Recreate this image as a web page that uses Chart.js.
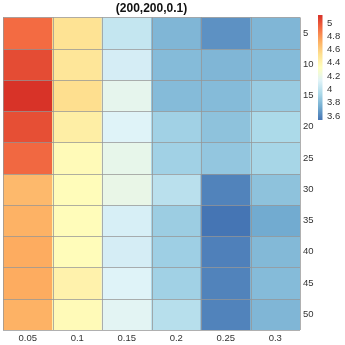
<!DOCTYPE html>
<html>
<head>
<meta charset="utf-8">
<script src="https://cdn.jsdelivr.net/npm/chart.js@4/dist/chart.umd.min.js"></script>
<style>
html,body{margin:0;padding:0;background:#fff;}
#wrap{width:345px;height:345px;}
</style>
</head>
<body>
<div id="wrap"><canvas id="c" width="345" height="345"></canvas></div>
<script>
// ---- data ----
const titleText = "(200,200,0.1)";
const colLabels = ["0.05", "0.1", "0.15", "0.2", "0.25", "0.3"];
const rowLabels = [5, 10, 15, 20, 25, 30, 35, 40, 45, 50];
// values per column, top (5) to bottom (50)
const col005 = [4.93, 5.03, 5.11, 5.02, 4.94, 4.68, 4.71, 4.73, 4.73, 4.71];
const col010 = [4.51, 4.49, 4.53, 4.44, 4.36, 4.35, 4.35, 4.35, 4.41, 4.36];
const col015 = [4.03, 4.09, 4.17, 4.13, 4.18, 4.19, 4.10, 4.09, 4.13, 4.15];
const col020 = [3.78, 3.80, 3.80, 3.90, 3.90, 3.99, 3.88, 3.89, 3.90, 3.98];
const col025 = [3.64, 3.78, 3.80, 3.83, 3.85, 3.59, 3.54, 3.58, 3.59, 3.59];
const col030 = [3.78, 3.80, 3.87, 3.94, 3.92, 3.83, 3.73, 3.79, 3.80, 3.78];
const legendTicks = [5, 4.8, 4.6, 4.4, 4.2, 4, 3.8, 3.6];
const scaleMin = 3.54, scaleMax = 5.12;

const columns = [col005, col010, col015, col020, col025, col030];
const palette = ["#4575b4","#74add1","#abd9e9","#e0f3f8","#ffffbf","#fee090","#fdae61","#f46d43","#d73027"];

function hexToRgb(h){return [parseInt(h.substr(1,2),16),parseInt(h.substr(3,2),16),parseInt(h.substr(5,2),16)];}
const palRgb = palette.map(hexToRgb);
function colorFor(v){
  let t = (v - scaleMin) / (scaleMax - scaleMin);
  t = Math.max(0, Math.min(1, t));
  const p = t * (palRgb.length - 1);
  const i = Math.min(Math.floor(p), palRgb.length - 2);
  const f = p - i;
  const a = palRgb[i], b = palRgb[i+1];
  const c = a.map((x,k)=>Math.round(x + (b[k]-x)*f));
  return "rgb(" + c.join(",") + ")";
}

const datasets = rowLabels.map((r, i) => ({
  label: String(r),
  data: colLabels.map((c, j) => [r - 2.5, r + 2.5]),
  backgroundColor: colLabels.map((c, j) => colorFor(columns[j][i])),
  borderWidth: 0,
  grouped: false,
  barPercentage: 1,
  categoryPercentage: 1
}));

const font = "'Liberation Sans', Arial, sans-serif";

const gridPlugin = {
  id: 'cellGrid',
  afterDatasetsDraw(chart) {
    const ctx = chart.ctx, a = chart.chartArea;
    const xs = chart.scales.x, ys = chart.scales.y;
    ctx.save();
    ctx.strokeStyle = "rgba(150,150,150,0.75)";
    ctx.lineWidth = 1;
    ctx.beginPath();
    const n = colLabels.length;
    for (let j = 0; j <= n; j++) {
      const x = Math.round(xs.getPixelForValue(j - 0.5)) + 0.5;
      ctx.moveTo(x, a.top); ctx.lineTo(x, a.bottom);
    }
    for (let i = 0; i <= rowLabels.length; i++) {
      const edge = i < rowLabels.length ? rowLabels[i] - 2.5 : rowLabels[rowLabels.length-1] + 2.5;
      const y = Math.round(ys.getPixelForValue(edge)) + 0.5;
      ctx.moveTo(a.left, y); ctx.lineTo(a.right, y);
    }
    ctx.stroke();
    ctx.restore();
  }
};

const colorbarPlugin = {
  id: 'colorbar',
  afterDraw(chart) {
    const ctx = chart.ctx;
    const x0 = 318, w = 4.5;
    const yOf = v => 23 + (5 - v) / 1.4 * 93;
    const yTop = yOf(scaleMax), yBot = yOf(scaleMin);
    const g = ctx.createLinearGradient(0, yBot, 0, yTop);
    palette.forEach((c, k) => g.addColorStop(k / (palette.length - 1), c));
    ctx.save();
    ctx.fillStyle = g;
    ctx.fillRect(x0, yTop, w, yBot - yTop);
    ctx.fillStyle = "#333";
    ctx.font = "9.5px " + font;
    ctx.textAlign = "left";
    ctx.textBaseline = "middle";
    legendTicks.forEach(v => {
      ctx.fillText(String(v), 327, yOf(v));
    });
    ctx.restore();
  }
};

new Chart(document.getElementById('c'), {
  type: 'bar',
  data: { labels: colLabels, datasets },
  options: {
    responsive: false,
    animation: false,
    layout: { padding: { left: 3, right: 30, top: 0, bottom: 0 } },
    plugins: {
      legend: { display: false },
      tooltip: { enabled: false },
      title: {
        display: true, text: titleText, fullSize: false,
        color: "#111",
        font: { family: font, size: 12, weight: 'bold' },
        padding: { top: 1, bottom: 2 }
      }
    },
    scales: {
      x: {
        type: 'category',
        grid: { display: false, drawTicks: false },
        border: { display: false },
        ticks: { color: "#333", font: { family: font, size: 9.5 }, padding: 3, maxRotation: 0 },
        afterFit(s) { s.height = 15; }
      },
      y: {
        type: 'linear', position: 'right', reverse: true,
        min: 2.5, max: 52.5,
        grid: { display: false, drawTicks: false },
        border: { display: false },
        afterBuildTicks(s) { s.ticks = rowLabels.map(v => ({ value: v })); },
        ticks: { color: "#333", font: { family: font, size: 9.5 }, padding: 3,
                 callback: v => String(v) },
        afterFit(s) { s.width = 15; }
      }
    }
  },
  plugins: [gridPlugin, colorbarPlugin]
});
</script>
</body>
</html>
